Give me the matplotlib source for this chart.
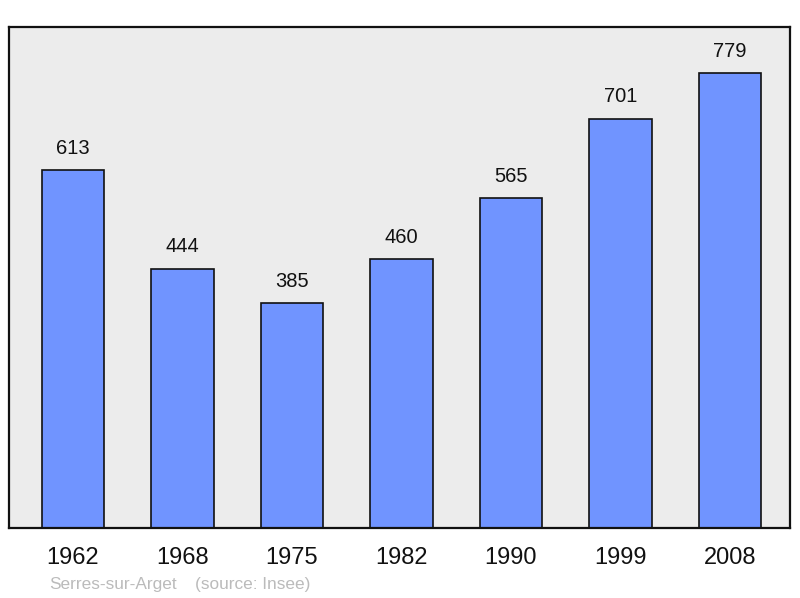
import matplotlib
matplotlib.use("Agg")
import matplotlib.pyplot as plt

years = ["1962", "1968", "1975", "1982", "1990", "1999", "2008"]
population = [613, 444, 385, 460, 565, 701, 779]
town = "Serres-sur-Arget"
source = "(source: Insee)"

plt.rcParams['font.family'] = ['Liberation Sans', 'DejaVu Sans']

fig = plt.figure(figsize=(8, 5.98), dpi=100)
W, H = 800, 598
ax = fig.add_axes([9 / W, 1 - 528 / H, (790 - 9) / W, (528 - 27) / H])
ax.set_facecolor('#ececec')

x = list(range(len(years)))
ax.bar(x, population, width=0.57, color='#7094ff', edgecolor='#111111', linewidth=1.2, zorder=2)
for xi, v in zip(x, population):
    ax.annotate(str(v), (xi, v), xytext=(0, 9), textcoords='offset points',
                ha='center', va='bottom', fontsize=14.5, color='#111111')

ax.set_xlim(-0.585, 6.55)
ax.set_ylim(0, 858)
ax.set_yticks([])
ax.set_xticks(x)
ax.set_xticklabels(years, fontsize=17, color='#111111')
ax.tick_params(axis='x', length=0, pad=14)
for s in ax.spines.values():
    s.set_linewidth(1.6)
    s.set_color('#111111')

fig.text(49 / W, 1 - 584 / H, town, fontsize=12.4, color='#bbbbbb', va='center', ha='left')
fig.text(195 / W, 1 - 584 / H, source, fontsize=12.4, color='#bbbbbb', va='center', ha='left')

fig.savefig('out.png', dpi=100)
